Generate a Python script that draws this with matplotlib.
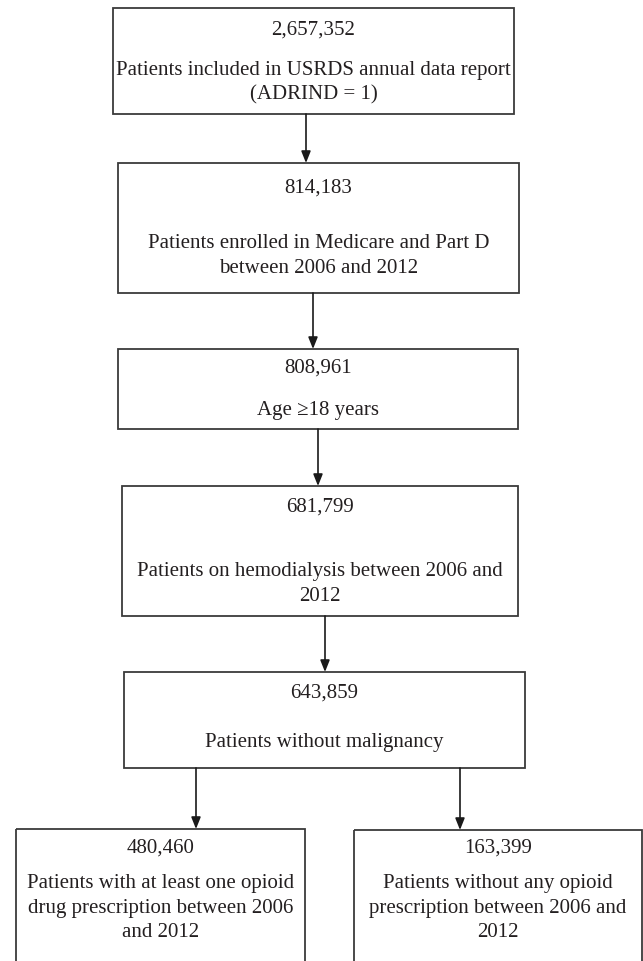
import matplotlib.pyplot as plt
from matplotlib.patches import Rectangle

# flowchart content
counts = ["2,657,352", "814,183", "808,961", "681,799", "643,859", "480,460", "163,399"]
labels = [
    "Patients included in USRDS annual data report\n(ADRIND = 1)",
    "Patients enrolled in Medicare and Part D\nbetween 2006 and 2012",
    "Age \u226518 years",
    "Patients on hemodialysis between 2006 and\n2012",
    "Patients without malignancy",
    "Patients with at least one opioid\ndrug prescription between 2006\nand 2012",
    "Patients without any opioid\nprescription between 2006 and\n2012",
]
links = [(0, 1), (1, 2), (2, 3), (3, 4), (4, 5), (4, 6)]

# layout in pixels (x0, y0, x1, y1), y downward
boxes = [
    (113, 8, 514, 114),
    (118, 163, 519, 293),
    (118, 349, 518, 429),
    (122, 486, 518, 616),
    (124, 672, 525, 768),
    (16, 829, 305, 975),
    (354, 830, 642, 975),
]
count_y = [30, 188, 368, 507, 693, 848, 848]
label_y = [83, 256, 410, 584, 743, 908, 908]
arrow_x = [(306, 306), (313, 313), (318, 318), (325, 325), (196, 196), (460, 460)]

W, H = 643, 961
fig = plt.figure(figsize=(W / 100, H / 100), dpi=100)
ax = fig.add_axes([0, 0, 1, 1])
ax.set_xlim(0, W)
ax.set_ylim(H, 0)
ax.axis("off")

font = dict(family="Liberation Serif", size=15, color="#231f20")

for i, (x0, y0, x1, y1) in enumerate(boxes):
    ax.add_patch(Rectangle((x0, y0), x1 - x0, y1 - y0, fill=False,
                           edgecolor="#3a3a3a", linewidth=1.3))
    cx = (x0 + x1) / 2
    ax.text(cx, count_y[i], counts[i], ha="center", va="center", **font)
    ax.text(cx, label_y[i], labels[i], ha="center", va="center",
            linespacing=1.38, **font)

for k, (a, b) in enumerate(links):
    xs, xe = arrow_x[k]
    ys = boxes[a][3]
    ye = boxes[b][1]
    ax.annotate("", xy=(xe, ye), xytext=(xs, ys),
                arrowprops=dict(arrowstyle="-|>,head_length=0.7,head_width=0.28",
                                color="#1a1a1a", lw=1.2, shrinkA=0, shrinkB=0))

fig.savefig("out.png", dpi=100)
